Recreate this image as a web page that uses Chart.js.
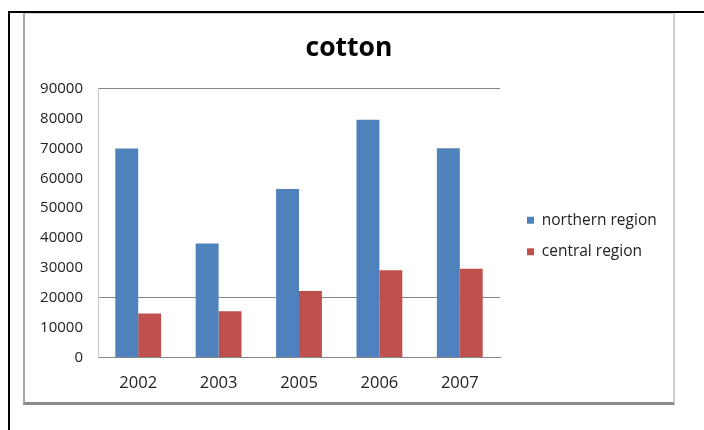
<!DOCTYPE html>
<html lang="en">
<head>
    <meta charset="UTF-8">
    <title>cotton</title>
    <style>
        body { margin: 0; background: #fff; font-family: "Open Sans", sans-serif; }
        #page { position: relative; width: 704px; height: 430px; overflow: hidden; }
        /* black corner lines around the sheet */
        #outer {
            position: absolute; left: 8px; top: 11px; right: 0; bottom: 0;
            border-top: 2px solid #000; border-left: 2px solid #000;
        }
        /* chart frame with its shadowed bottom edge */
        #frame {
            position: absolute; left: 23px; top: 13px; width: 648px; height: 388px;
            border-left: 2px solid #a6a6a6; border-top: 1px solid #d4d4d4;
            border-right: 2px solid #cfcfcf; border-bottom: 3px solid #8c8c8c;
            background: #fff;
        }
        #chart { position: absolute; left: 25px; top: 14px; }
    </style>
</head>
<body>
<div id="page">
    <div id="outer"></div>
    <div id="frame"></div>
    <canvas id="chart" width="648" height="396"></canvas>
</div>
<script src="https://cdn.jsdelivr.net/npm/chart.js"></script>
<script>
const years = ['2002', '2003', '2005', '2006', '2007'];
const northern = [70000, 38200, 56400, 79600, 70100];
const central = [14700, 15500, 22300, 29200, 29700];
const yTicks = [0, 10000, 20000, 30000, 40000, 50000, 60000, 70000, 80000, 90000];
const shownGrid = [20000, 90000];

// title centred on the whole frame, legend set a bit right of the plot and lower
const boxTweaks = {
    id: 'boxTweaks',
    afterLayout(chart) {
        const t = chart.titleBlock;
        t.left = 0; t.right = chart.width;
        const lg = chart.legend;
        lg.left = chart.chartArea.right + 11;
        lg.right = lg.left + 165;
        lg.top += 24; lg.bottom += 24;
    }
};

const ctx = document.getElementById('chart').getContext('2d');
new Chart(ctx, {
    type: 'bar',
    data: {
        labels: years,
        datasets: [{
            label: 'northern region',
            data: northern,
            backgroundColor: '#4f81bd',
            borderWidth: 0
        }, {
            label: 'central region',
            data: central,
            backgroundColor: '#c0504d',
            borderWidth: 0
        }]
    },
    options: {
        responsive: false,
        animation: false,
        devicePixelRatio: 1,
        layout: { padding: { left: 0, top: 0, right: 40, bottom: 0 } },
        datasets: { bar: { barPercentage: 1, categoryPercentage: 0.57 } },
        scales: {
            x: {
                grid: { display: false, drawTicks: false },
                border: { color: '#868686', width: 1 },
                ticks: {
                    color: '#222',
                    padding: 18,
                    font: { family: 'Open Sans', size: 16.5, lineHeight: 1 }
                }
            },
            y: {
                min: 0,
                max: 90000,
                afterFit(scale) { scale.width = 73; },
                afterBuildTicks(scale) { scale.ticks = yTicks.map(v => ({ value: v })); },
                grid: {
                    drawTicks: false,
                    color: c => shownGrid.includes(c.tick.value) ? '#868686' : 'rgba(0,0,0,0)'
                },
                border: { color: '#c8c8c8', width: 1 },
                ticks: {
                    color: '#222',
                    padding: 15,
                    font: { family: 'Open Sans', size: 15 },
                    callback: v => String(v)
                }
            }
        },
        plugins: {
            title: {
                display: true,
                text: 'cotton',
                color: '#000',
                font: { family: 'Open Sans', size: 26.5, weight: 'bold' },
                padding: { top: 19, bottom: 24 }
            },
            legend: {
                position: 'right',
                maxWidth: 133,
                labels: {
                    boxWidth: 7,
                    boxHeight: 7,
                    padding: 16,
                    color: '#222',
                    font: { family: 'Open Sans', size: 15.5 }
                }
            },
            tooltip: { enabled: false }
        }
    },
    plugins: [boxTweaks]
});
</script>
</body>
</html>
